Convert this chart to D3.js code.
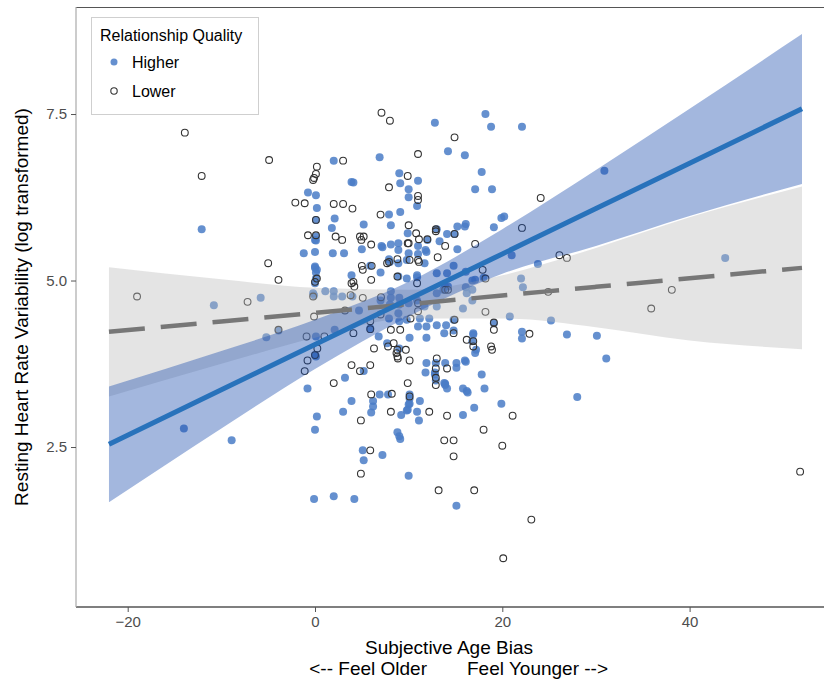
<!DOCTYPE html>
<html>
<head>
<meta charset="utf-8">
<script src="https://cdn.jsdelivr.net/npm/d3@7"></script>
<style>
  body { margin: 0; background: #fff; }
  svg text { font-family: "Liberation Sans", Arial, sans-serif; }
</style>
</head>
<body>
<div class="container"></div>
<script>
// Relationship quality: higher (filled) / lower (open) -- [subjective age bias, log HRV]
const higher = [
  [18.2,7.50],[12.8,7.37],[22.1,7.31],[18.8,7.31],[14.2,6.94],[16.0,6.88],[6.9,6.85],[2.0,6.80],[17.8,6.63],[9.0,6.61],
  [3.9,6.48],[4.1,6.47],[9.1,6.46],[11.0,6.50],[10.0,6.37],[17.1,6.37],[18.9,6.37],[-0.75,6.32],[0.1,6.28],[10.0,6.25],
  [10.9,6.12],[0.2,6.09],[9.1,6.03],[7.9,5.99],[20.2,5.96],[19.9,5.94],[2.1,5.93],[0.1,5.91],[5.2,5.84],[8.1,5.83],
  [15.2,5.81],[16.0,5.81],[1.8,5.79],[19.1,5.80],[16.1,5.85],[13.0,5.77],[14.1,5.70],[14.9,5.70],[9.9,5.71],[0.1,5.66],
  [0.0,5.61],[0.1,5.60],[12.0,5.61],[13.3,5.59],[8.9,5.56],[8.1,5.54],[7.1,5.52],[11.0,5.52],[7.2,5.50],[5.0,5.47],
  [15.2,5.47],[8.9,5.46],[11.8,5.46],[0.0,5.43],[11.9,5.43],[-1.2,5.41],[1.9,5.41],[3.1,5.41],[10.0,5.41],[11.0,5.40],
  [21.0,5.38],[7.9,5.32],[9.8,5.31],[8.0,5.28],[11.7,5.26],[8.9,5.26],[23.8,5.25],[5.9,5.22],[14.8,5.22],[0.0,5.21],
  [0.0,5.19],[0.2,5.16],[7.0,5.12],[0.1,5.12],[16.1,5.13],[13.0,5.11],[14.1,5.11],[3.9,5.08],[10.9,5.08],[8.9,5.06],
  [10.9,5.05],[0.1,5.03],[9.8,5.03],[22.0,5.03],[18.0,5.04],[17.1,5.01],[16.8,5.00],[0.0,4.96],[13.9,4.91],[14.2,4.91],
  [16.1,4.90],[22.2,4.90],[13.7,4.86],[16.8,4.86],[1.1,4.84],[2.0,4.84],[8.1,4.84],[-0.2,4.81],[16.2,4.81],[13.0,4.81],
  [-0.1,4.78],[2.0,4.76],[2.9,4.76],[4.0,4.76],[8.1,4.74],[9.0,4.74],[16.8,4.70],[7.0,4.70],[10.9,4.70],[10.0,4.66],
  [8.0,4.64],[9.0,4.64],[11.7,4.61],[13.0,4.61],[15.8,4.58],[4.7,4.55],[8.9,4.51],[20.8,4.46],[12.2,4.43],[11.2,4.43],
  [7.9,4.43],[14.8,4.41],[9.8,4.41],[9.0,4.39],[19.1,4.36],[13.0,4.33],[14.0,4.33],[11.9,4.31],[11.0,4.31],[5.9,4.28],
  [2.1,4.26],[14.8,4.25],[13.8,4.21],[16.9,4.21],[22.1,4.23],[16.9,4.19],[0.1,4.16],[6.8,4.16],[11.9,4.14],[10.1,4.14],
  [22.1,4.13],[16.8,4.09],[7.7,4.06],[9.0,3.98],[17.2,3.96],[17.1,3.91],[0.0,3.88],[0.1,3.86],[16.0,3.80],[16.1,3.78],
  [11.9,3.76],[13.9,3.76],[15.1,3.76],[12.9,3.76],[15.1,3.69],[5.2,3.64],[11.8,3.62],[12.8,3.62],[12.8,3.59],[17.8,3.59],
  [3.2,3.54],[12.9,3.50],[13.8,3.46],[13.9,3.45],[13.9,3.43],[-0.8,3.38],[14.1,3.38],[18.1,3.38],[15.8,3.38],[16.2,3.34],
  [16.3,3.32],[6.9,3.29],[7.8,3.29],[10.1,3.29],[10.1,3.23],[3.9,3.19],[6.2,3.19],[11.2,3.19],[10.1,3.15],[19.9,3.15],
  [10.0,3.14],[6.2,3.11],[17.0,3.09],[9.9,3.06],[9.8,3.05],[3.0,3.03],[10.9,3.03],[6.0,3.02],[9.2,2.98],[15.8,2.98],
  [0.2,2.96],[11.1,2.90],[0.0,2.76],[8.8,2.72],[9.0,2.66],[9.1,2.62],[5.1,2.45],[7.2,2.38],[5.2,2.30],[10.0,2.07],
  [2.0,1.76],[-0.1,1.72],[4.2,1.72],[15.1,1.62],
  [-12.1,5.77],[-10.8,4.63],[-5.8,4.74],[-5.2,4.15],[-3.9,4.25],[-14.0,2.78],[-8.9,2.60],
  [30.9,6.65],[43.8,5.34],[25.2,4.40],[26.9,4.19],[30.1,4.17],[31.1,3.83],[28.0,3.25]
];

const lower = [
  [7.1,7.52],[8.0,7.40],[14.9,7.15],[11.0,6.90],[3.0,6.80],[0.2,6.71],[0.1,6.60],[9.9,6.57],[-0.1,6.54],[-0.2,6.51],
  [7.9,6.40],[11.0,6.27],[11.0,6.21],[-2.1,6.17],[-1.1,6.16],[2.0,6.15],[3.0,6.15],[4.0,6.08],[7.0,5.99],[0.1,5.91],
  [10.0,5.83],[22.1,5.79],[12.9,5.77],[12.9,5.74],[14.9,5.70],[10.8,5.71],[-0.75,5.68],[0.1,5.68],[2.2,5.66],[4.8,5.66],
  [5.2,5.66],[2.9,5.61],[4.95,5.61],[12.0,5.62],[11.1,5.62],[9.9,5.56],[10.0,5.56],[6.0,5.54],[13.9,5.52],[17.1,5.55],
  [13.1,5.35],[8.8,5.32],[10.1,5.31],[11.0,5.31],[11.1,5.28],[7.9,5.28],[7.7,5.26],[6.05,5.22],[5.0,5.22],[5.1,5.16],
  [17.9,5.16],[8.8,5.06],[0.2,5.03],[18.2,5.03],[6.0,5.01],[0.0,4.98],[4.1,4.98],[3.9,4.96],[10.9,4.96],[4.2,4.91],
  [13.9,4.86],[14.2,4.86],[3.8,4.78],[-0.2,4.76],[5.1,4.74],[7.05,4.75],[11.0,4.66],[3.2,4.55],[11.0,4.54],[18.2,4.53],
  [7.0,4.49],[-0.1,4.46],[10.2,4.43],[14.9,4.41],[5.9,4.39],[19.1,4.37],[5.9,4.27],[8.1,4.26],[9.1,4.26],[19.1,4.26],
  [4.1,4.21],[14.8,4.21],[22.9,4.20],[-0.9,4.16],[1.0,4.16],[16.2,4.11],[16.9,4.09],[8.4,4.06],[7.8,4.01],[16.9,4.01],
  [18.8,4.01],[6.3,3.98],[0.25,3.98],[8.8,3.96],[9.7,3.96],[18.9,3.96],[8.7,3.91],[0.0,3.88],[8.8,3.86],[13.0,3.83],
  [8.85,3.83],[-0.8,3.80],[10.1,3.80],[3.9,3.73],[5.9,3.73],[12.9,3.68],[14.1,3.68],[-1.1,3.64],[4.8,3.64],[12.9,3.54],
  [2.0,3.46],[9.9,3.46],[12.9,3.43],[6.0,3.29],[8.2,3.30],[10.1,3.26],[8.1,3.03],[12.2,3.03],[14.1,2.97],[21.1,2.97],
  [4.9,2.90],[18.0,2.76],[13.8,2.60],[14.8,2.60],[20.0,2.52],[5.9,2.45],[14.8,2.36],[4.9,2.10],[13.2,1.85],[17.0,1.85],
  [23.1,1.41],[20.1,0.83],
  [-13.9,7.22],[-4.9,6.81],[-12.1,6.57],[-5.0,5.26],[-3.9,5.01],[-19.0,4.76],[-7.2,4.68],[-3.9,4.26],
  [24.1,6.24],[26.1,5.38],[26.9,5.34],[38.1,4.86],[35.9,4.58],[51.8,2.13],[24.9,4.83]
];

// fitted lines and 95% bands read at these x values
const fitX      = [-22, -10, 0, 10, 20, 30, 40, 52];
const higherFit = [2.54, 3.36, 4.04, 4.72, 5.40, 6.08, 6.76, 7.58];
const higherLo  = [1.67, 2.78, 3.67, 4.46, 5.10, 5.52, 5.97, 6.45];
const higherHi  = [3.41, 3.94, 4.41, 4.98, 5.77, 6.66, 7.58, 8.70];
const lowerFit  = [4.23, 4.385, 4.515, 4.645, 4.775, 4.905, 5.035, 5.19];
const lowerLo   = [3.26, 3.75, 4.14, 4.43, 4.43, 4.30, 4.10, 3.97];
const lowerHi   = [5.20, 5.02, 4.89, 4.86, 5.08, 5.49, 5.95, 6.41];

const xTicks = [-20, 0, 20, 40];
const yTicks = [2.5, 5.0, 7.5];
const groups = ["Higher", "Lower"];

const width = 824;
const height = 679;
const margin = { top: 7, right: 0, bottom: 72, left: 76 };

const svg = d3.select(".container").append("svg")
    .attr("width", width)
    .attr("height", height);

const xScale = d3.scaleLinear()
    .domain([-25.52, 54.35])
    .range([margin.left, width - margin.right]);

const yScale = d3.scaleLinear()
    .domain([0.098, 9.107])
    .range([height - margin.bottom, margin.top]);

const blueFill = "#4a7cc7";

// points first, ribbons and lines sit on top (like ggplot layer order)
svg.append("g")
    .selectAll("circle")
    .data(higher)
    .enter()
    .append("circle")
    .attr("cx", d => xScale(d[0]))
    .attr("cy", d => yScale(d[1]))
    .attr("r", 4)
    .attr("fill", blueFill)
    .attr("fill-opacity", 0.85);

svg.append("g")
    .selectAll("circle")
    .data(lower)
    .enter()
    .append("circle")
    .attr("cx", d => xScale(d[0]))
    .attr("cy", d => yScale(d[1]))
    .attr("r", 3.4)
    .attr("fill", "none")
    .attr("stroke", "#333")
    .attr("stroke-width", 1.1);

const band = (lo, hi) => d3.area()
    .x((d, i) => xScale(fitX[i]))
    .y0((d, i) => yScale(lo[i]))
    .y1((d, i) => yScale(hi[i]))
    .curve(d3.curveMonotoneX)(fitX);

const line = vals => d3.line()
    .x((d, i) => xScale(fitX[i]))
    .y((d, i) => yScale(vals[i]))
    .curve(d3.curveMonotoneX)(fitX);

svg.append("path")
    .attr("d", band(lowerLo, lowerHi))
    .attr("fill", "#bcbcbc")
    .attr("fill-opacity", 0.4);

svg.append("path")
    .attr("d", band(higherLo, higherHi))
    .attr("fill", "#194bac")
    .attr("fill-opacity", 0.4);

svg.append("path")
    .attr("d", line(lowerFit))
    .attr("fill", "none")
    .attr("stroke", "#777")
    .attr("stroke-width", 4.5)
    .attr("stroke-dasharray", "36 16");

svg.append("path")
    .attr("d", line(higherFit))
    .attr("fill", "none")
    .attr("stroke", "#2872bb")
    .attr("stroke-width", 5);

// panel border (top) and axes
svg.append("line")
    .attr("x1", margin.left).attr("x2", width)
    .attr("y1", margin.top + 0.5).attr("y2", margin.top + 0.5)
    .attr("stroke", "#555").attr("stroke-width", 1.2);

const xAxis = d3.axisBottom(xScale).tickValues(xTicks).tickSize(5).tickPadding(4)
    .tickFormat(d => d < 0 ? "\u2212" + Math.abs(d) : d);

const gx = svg.append("g")
    .attr("transform", `translate(0,${height - margin.bottom})`)
    .call(xAxis);
gx.select(".domain").attr("stroke", "#555").attr("stroke-width", 1.5)
    .attr("d", `M${margin.left},0H${width}`);
gx.selectAll(".tick line").attr("stroke", "#555");
gx.selectAll(".tick text").attr("fill", "#4d4d4d").style("font-size", "15px");

const yAxis = d3.axisLeft(yScale).tickValues(yTicks).tickSize(5).tickPadding(4)
    .tickFormat(d3.format(".1f"));

const gy = svg.append("g")
    .attr("transform", `translate(${margin.left},0)`)
    .call(yAxis);
gy.select(".domain").attr("stroke", "#aaa").attr("stroke-width", 1.2)
    .attr("d", `M0,${margin.top}V${height - margin.bottom}`);
gy.selectAll(".tick line").attr("stroke", "#555");
gy.selectAll(".tick text").attr("fill", "#4d4d4d").style("font-size", "15px");

// axis titles
svg.append("text")
    .attr("x", 449).attr("y", 654)
    .attr("text-anchor", "middle")
    .style("font-size", "19px")
    .text("Subjective Age Bias");

svg.append("text")
    .attr("x", 427).attr("y", 675)
    .attr("text-anchor", "end")
    .style("font-size", "19px")
    .text("<-- Feel Older");

svg.append("text")
    .attr("x", 467).attr("y", 675)
    .attr("text-anchor", "start")
    .style("font-size", "19px")
    .text("Feel Younger -->");

svg.append("text")
    .attr("transform", `translate(28,${(margin.top + height - margin.bottom) / 2}) rotate(-90)`)
    .attr("text-anchor", "middle")
    .style("font-size", "19px")
    .text("Resting Heart Rate Variability (log transformed)");

// legend
const legend = svg.append("g");
legend.append("rect")
    .attr("x", 91.5).attr("y", 17.5)
    .attr("width", 167).attr("height", 97)
    .attr("fill", "#fff")
    .attr("stroke", "#cfcfcf");

legend.append("text")
    .attr("x", 100).attr("y", 41)
    .style("font-size", "16px")
    .text("Relationship Quality");

groups.forEach((g, i) => {
    const cy = 62 + i * 29;
    const sym = legend.append("circle")
        .attr("cx", 114).attr("cy", cy);
    if (g === "Higher") {
        sym.attr("r", 3.5).attr("fill", blueFill).attr("fill-opacity", 0.85);
    } else {
        sym.attr("r", 3.2).attr("fill", "none").attr("stroke", "#333").attr("stroke-width", 1.1);
    }
    legend.append("text")
        .attr("x", 132).attr("y", cy + 6)
        .style("font-size", "16px")
        .text(g);
});
</script>
</body>
</html>
